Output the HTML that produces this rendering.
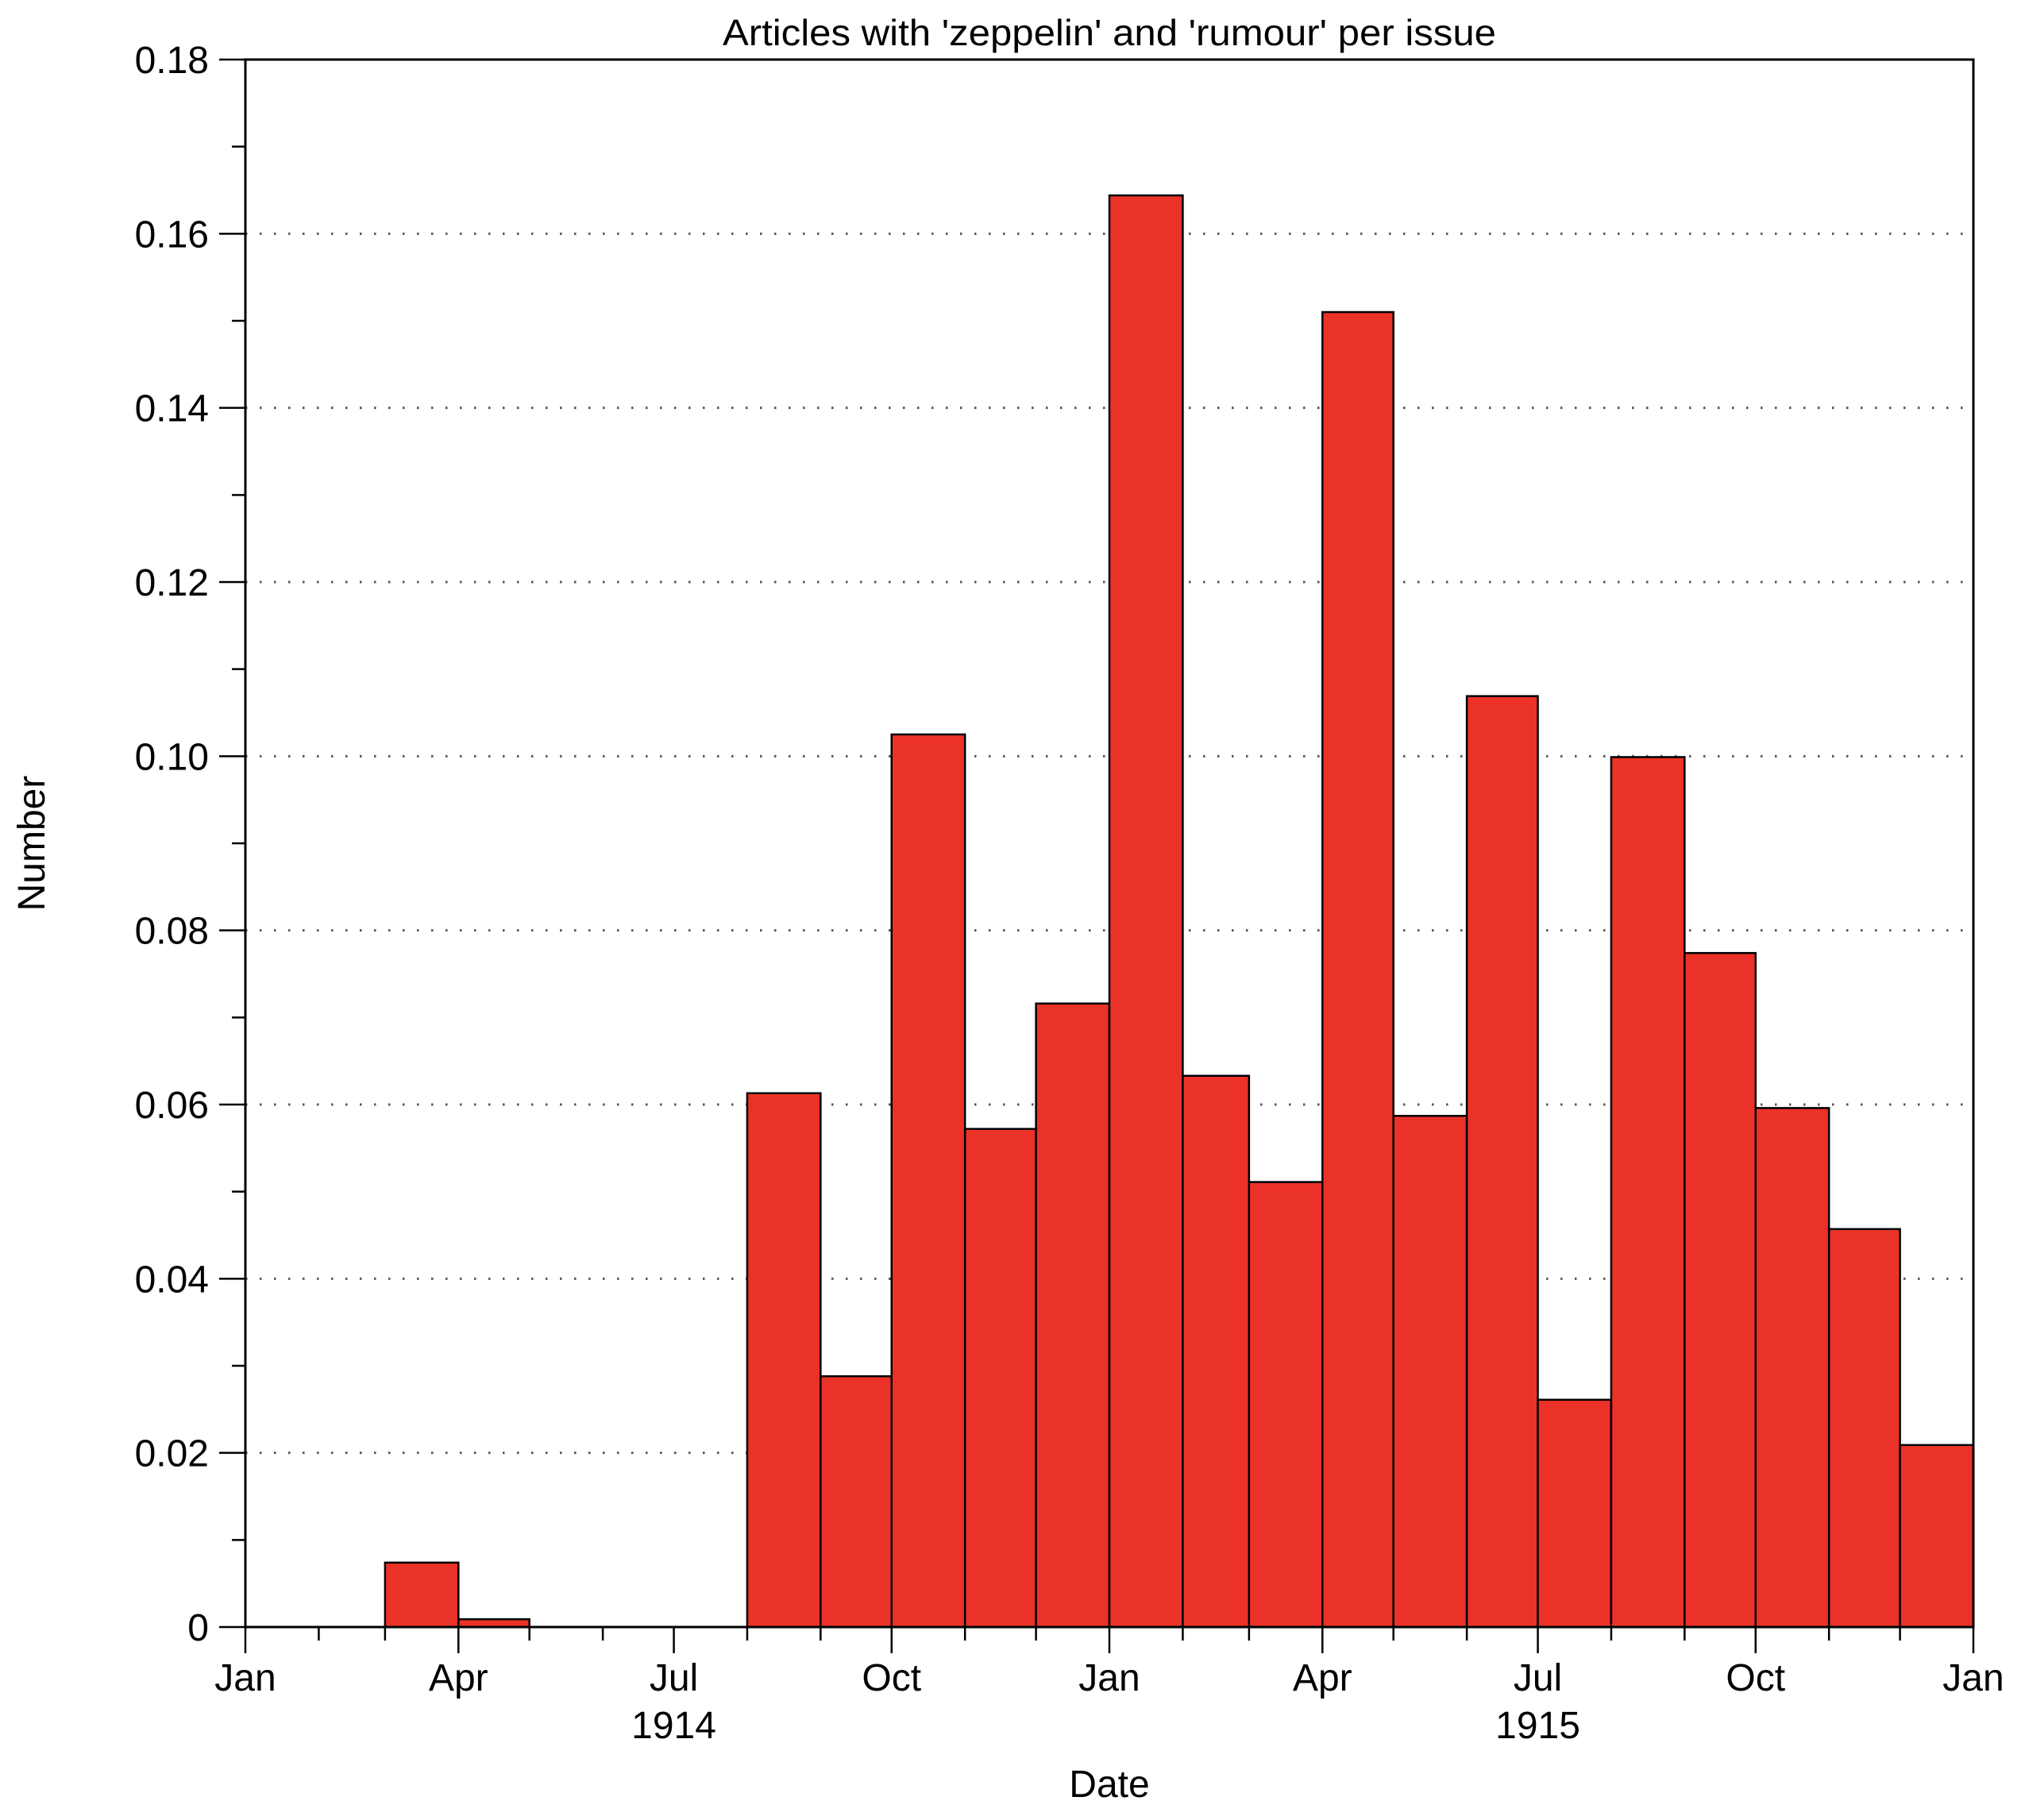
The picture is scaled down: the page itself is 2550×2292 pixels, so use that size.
<!DOCTYPE html>
<html><head><meta charset="utf-8"><style>
html,body{margin:0;padding:0;background:#fff;}
svg{display:block;font-family:"Liberation Sans",Arial,sans-serif;}
</style></head><body>
<svg id="chart" width="2550" height="2292" viewBox="0 0 2550 2292" xmlns="http://www.w3.org/2000/svg">
<rect width="2550" height="2292" fill="#fff"/>
<g id="grid"></g><g id="bars"></g><g id="axes"></g>
</svg>
<script>
const months = ["1914-01","1914-02","1914-03","1914-04","1914-05","1914-06","1914-07","1914-08","1914-09","1914-10","1914-11","1914-12","1915-01","1915-02","1915-03","1915-04","1915-05","1915-06","1915-07","1915-08","1915-09","1915-10","1915-11","1915-12"];
const values = [0,0,0.0074,0.0009,0,0,0,0.0613,0.0288,0.1025,0.0572,0.0716,0.1644,0.0633,0.0511,0.1510,0.0587,0.1069,0.0261,0.0999,0.0774,0.0596,0.0457,0.0209];
const yTicks = [0,0.02,0.04,0.06,0.08,0.10,0.12,0.14,0.16,0.18];
const yTickLabels = ["0","0.02","0.04","0.06","0.08","0.10","0.12","0.14","0.16","0.18"];
const monthLabelNames = ["Jan","Feb","Mar","Apr","May","Jun","Jul","Aug","Sep","Oct","Nov","Dec"];
const yearLabels = ["1914","1915"];

const NS="http://www.w3.org/2000/svg";
const L=309,R=2485,T=75,B=2049;
const t0=Date.UTC(1914,0,1), t1=Date.UTC(1916,0,1);
function xScale(t){return L+(R-L)*(t-t0)/(t1-t0);}
function yScale(v){return B-(B-T)*v/0.18;}
function monthT(s){const [y,m]=s.split("-").map(Number);return Date.UTC(y,m-1,1);}
function nextMonthT(s){const [y,m]=s.split("-").map(Number);return Date.UTC(y,m,1);}
function mk(tag,attrs,parent){const e=document.createElementNS(NS,tag);for(const k in attrs)e.setAttribute(k,attrs[k]);parent.appendChild(e);return e;}
const grid=document.getElementById("grid"),bars=document.getElementById("bars"),axes=document.getElementById("axes");

yTicks.forEach((v,i)=>{
  if(v>0&&v<0.18){
    const g=mk("line",{x1:L,x2:R,y1:yScale(v),y2:yScale(v),stroke:"#555","stroke-width":3,"stroke-dasharray":"2.5 15.5"},grid);
    
    
  }
});

months.forEach((m,i)=>{
  const v=values[i]; if(v<=0) return;
  const x0=xScale(monthT(m)),x1=xScale(nextMonthT(m)),y=yScale(v);
  const r=mk("rect",{x:x0,y:y,width:x1-x0,height:B-y,fill:"#eb3228",stroke:"#000","stroke-width":2.5},bars);
  
  
});

const frame=mk("rect",{x:L,y:T,width:R-L,height:B-T,fill:"none",stroke:"#000","stroke-width":3},axes);



for(let k=0;k<=18;k++){
  const v=k*0.01,y=yScale(v),major=(k%2===0);
  const tk=mk("line",{x1:major?276:292,x2:L,y1:y,y2:y,stroke:"#000","stroke-width":2.5},axes);
  
  
}
yTicks.forEach((v,i)=>{
  const t=mk("text",{x:263,y:yScale(v)+17,"text-anchor":"end","font-size":48},axes);
  t.textContent=yTickLabels[i];
  
  
});

for(let k=0;k<=24;k++){
  const y=1914+Math.floor(k/12),m=k%12;
  const x=xScale(Date.UTC(y,m,1)),major=(m%3===0);
  const tk=mk("line",{x1:x,x2:x,y1:B,y2:major?2082:2066,stroke:"#000","stroke-width":2.5},axes);
  
  
  if(major){
    const t=mk("text",{x:x,y:2129,"text-anchor":"middle","font-size":48},axes);
    t.textContent=monthLabelNames[m];
    
    
  }
}
yearLabels.forEach(yr=>{
  const t=mk("text",{x:xScale(Date.UTC(+yr,6,1)),y:2189,"text-anchor":"middle","font-size":48},axes);
  t.textContent=yr;
  
  
});

const title=mk("text",{x:1397,y:57,"text-anchor":"middle","font-size":46,textLength:974,lengthAdjust:"spacingAndGlyphs"},axes);
title.textContent="Articles with 'zeppelin' and 'rumour' per issue";



const xt=mk("text",{x:1397,y:2263,"text-anchor":"middle","font-size":48},axes);
xt.textContent="Date";



const yt=mk("text",{x:0,y:0,"text-anchor":"middle","font-size":48,transform:"translate(56,1062) rotate(-90)"},axes);
yt.textContent="Number";


</script>
</body></html>
